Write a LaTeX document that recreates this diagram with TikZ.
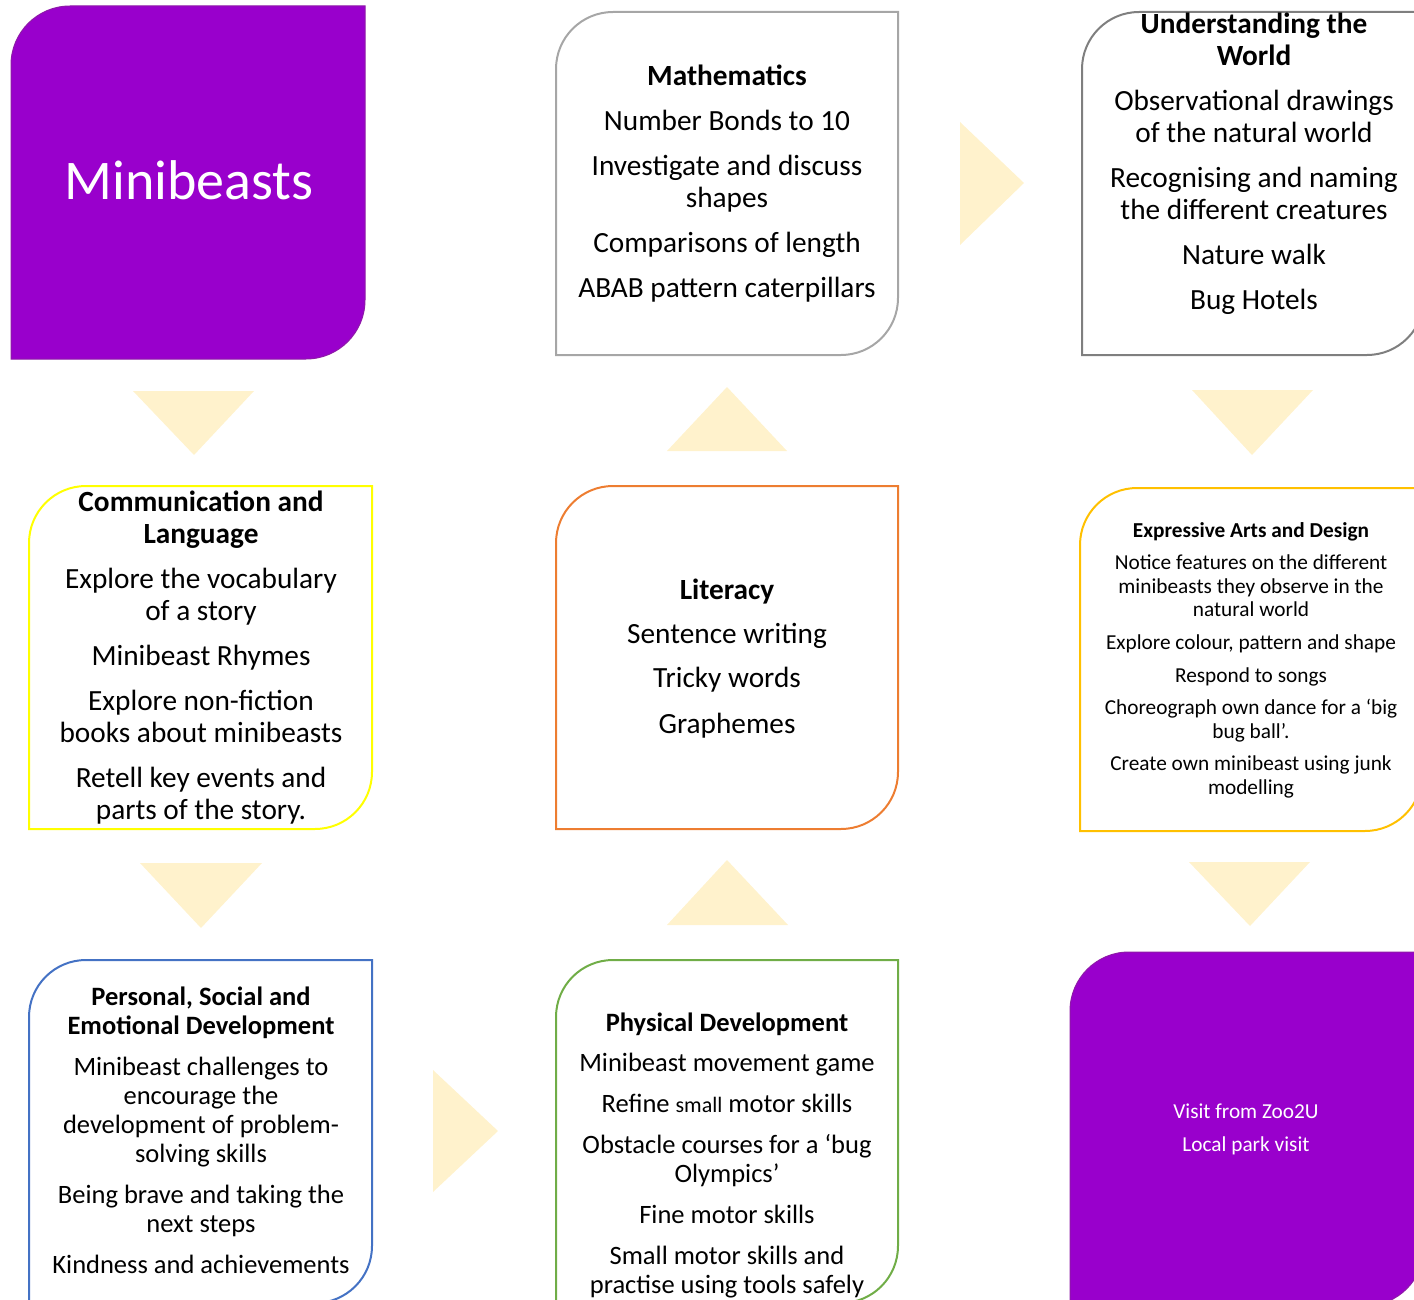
\documentclass[tikz,border=0pt]{standalone}
\usepackage{fontspec}
\setmainfont{Carlito}
\usetikzlibrary{calc}
\definecolor{purp}{HTML}{9900CC}
\definecolor{purpline}{HTML}{8E1AA8}
\definecolor{arrowfill}{HTML}{FFF2CC}
\definecolor{mathline}{HTML}{A6A6A6}
\definecolor{utwline}{HTML}{7F7F7F}
\definecolor{commline}{HTML}{FFFF00}
\definecolor{litline}{HTML}{ED7D31}
\definecolor{eadline}{HTML}{FFC000}
\definecolor{psedline}{HTML}{4472C4}
\definecolor{physline}{HTML}{70AD47}
\newcommand\diagoutline[3]{%
  \draw[#3] ($(#1.north west)+(0,#2)$)
    .. controls ($(#1.north west)+(0,0.4477*#2)$) and ($(#1.north west)+(0.4477*#2,0)$) .. ($(#1.north west)+(#2,0)$)
    -- (#1.north east) -- ($(#1.south east)+(0,-#2)$)
    .. controls ($(#1.south east)+(0,-0.4477*#2)$) and ($(#1.south east)+(-0.4477*#2,0)$) .. ($(#1.south east)+(-#2,0)$)
    -- (#1.south west) -- cycle;}
\tikzset{
  boxshape/.style={rectangle, inner sep=0pt, outer sep=0pt, minimum width=342pt, minimum height=343pt},
  outline/.style={line width=2pt},
  bigtxt/.style={font=\fontsize{29.3}{32}\selectfont, align=center, inner sep=0pt, anchor=north},
  medtxt/.style={font=\fontsize{26.5}{29}\selectfont, align=center, inner sep=0pt, anchor=north},
  smtxt/.style={font=\fontsize{21.3}{23.3}\selectfont, align=center, inner sep=0pt, anchor=north},
  tri/.style={fill=arrowfill, draw=none}
}
\begin{document}
\begin{tikzpicture}[x=1pt,y=-1pt]
\useasboundingbox (0,0) rectangle (1414,1300);
\clip (0,0) rectangle (1414,1300);
% box placeholders
\node[boxshape, minimum width=354pt, minimum height=353pt] (mini) at (188,182.5) {};
\node[boxshape] (math) at (727,183.5) {};
\node[boxshape] (utw) at (1253,183.5) {};
\node[boxshape, minimum width=343pt] (comm) at (200.5,657.5) {};
\node[boxshape] (lit) at (727,657.5) {};
\node[boxshape] (ead) at (1251,659.5) {};
\node[boxshape, minimum width=343pt] (psed) at (200.5,1131.5) {};
\node[boxshape] (phys) at (727,1131.5) {};
\node[boxshape, minimum width=354pt, minimum height=354pt] (visit) at (1247,1129) {};
% outlines
\diagoutline{mini}{59}{fill=purp, draw=purpline, line width=1pt}
\diagoutline{math}{57}{outline, draw=mathline}
\diagoutline{utw}{57}{outline, draw=utwline}
\diagoutline{comm}{57}{outline, draw=commline}
\diagoutline{lit}{57}{outline, draw=litline}
\diagoutline{ead}{57}{outline, draw=eadline}
\diagoutline{psed}{57}{outline, draw=psedline}
\diagoutline{phys}{57}{outline, draw=physline}
\diagoutline{visit}{59}{fill=purp, draw=purpline, line width=1pt}
% arrows (triangles)
\fill[tri] (133,391) -- (254,391) -- (194,455) -- cycle;
\fill[tri] (140,863) -- (262,863) -- (201,928) -- cycle;
\fill[tri] (667,451) -- (787,451) -- (727,387) -- cycle;
\fill[tri] (667,925) -- (788,925) -- (727,860) -- cycle;
\fill[tri] (960,122) -- (960,245) -- (1024,183) -- cycle;
\fill[tri] (433,1070) -- (433,1192) -- (498,1131) -- cycle;
\fill[tri] (1192,390) -- (1313,390) -- (1252,455) -- cycle;
\fill[tri] (1189,862) -- (1310,862) -- (1250,926) -- cycle;
% texts
\node[font=\fontsize{56}{66}\selectfont, text=white, inner sep=0pt] (minitxt) at (189,180) {Minibeasts};
\node[bigtxt] (mathtxt) at (727,63) {\strut\textbf{Mathematics}\\[13pt]
Number Bonds to 10\\[13pt]
Investigate and discuss\\shapes\\[13pt]
Comparisons of length\\[13pt]
ABAB pattern caterpillars};
\node[bigtxt] (utwtxt) at (1254,11) {\strut\textbf{Understanding the}\\\textbf{World}\\[13pt]
Observational drawings\\of the natural world\\[13pt]
Recognising and naming\\the different creatures\\[13pt]
Nature walk\\[13pt]
Bug Hotels};
\node[bigtxt] (commtxt) at (201,489) {\strut\textbf{Communication and}\\\textbf{Language}\\[13pt]
Explore the vocabulary\\of a story\\[13pt]
Minibeast Rhymes\\[13pt]
Explore non-fiction\\books about minibeasts\\[13pt]
Retell key events and\\parts of the story.};
\node[bigtxt] (littxt) at (727,577) {\strut\textbf{Literacy}\\[12pt]
Sentence writing\\[12pt]
Tricky words\\[13.5pt]
Graphemes};
\node[smtxt] (eadtxt) at (1251,520.5) {\strut\textbf{Expressive Arts and Design}\\[9.5pt]
Notice features on the different\\minibeasts they observe in the\\natural world\\[9.5pt]
Explore colour, pattern and shape\\[9.5pt]
Respond to songs\\[9.5pt]
Choreograph own dance for a ‘big\\bug ball’.\\[9.5pt]
Create own minibeast using junk\\modelling};
\node[medtxt] (psedtxt) at (201,985.2) {\strut\textbf{Personal, Social and}\\\textbf{Emotional Development}\\[12pt]
Minibeast challenges to\\encourage the\\development of problem-\\solving skills\\[12pt]
Being brave and taking the\\next steps\\[12pt]
Kindness and achievements};
\node[medtxt] (phystxt) at (727,1011.2) {\strut\textbf{Physical Development}\\[11pt]
Minibeast movement game\\[12pt]
Refine {\fontsize{22}{29}\selectfont small} motor skills\\[12pt]
Obstacle courses for a ‘bug\\Olympics’\\[12pt]
Fine motor skills\\[12pt]
Small motor skills and\\practise using tools safely};
\node[smtxt, text=white] (visittxt) at (1246,1101.5) {\strut Visit from Zoo2U\\[9.7pt]
Local park visit};
\end{tikzpicture}
\end{document}
